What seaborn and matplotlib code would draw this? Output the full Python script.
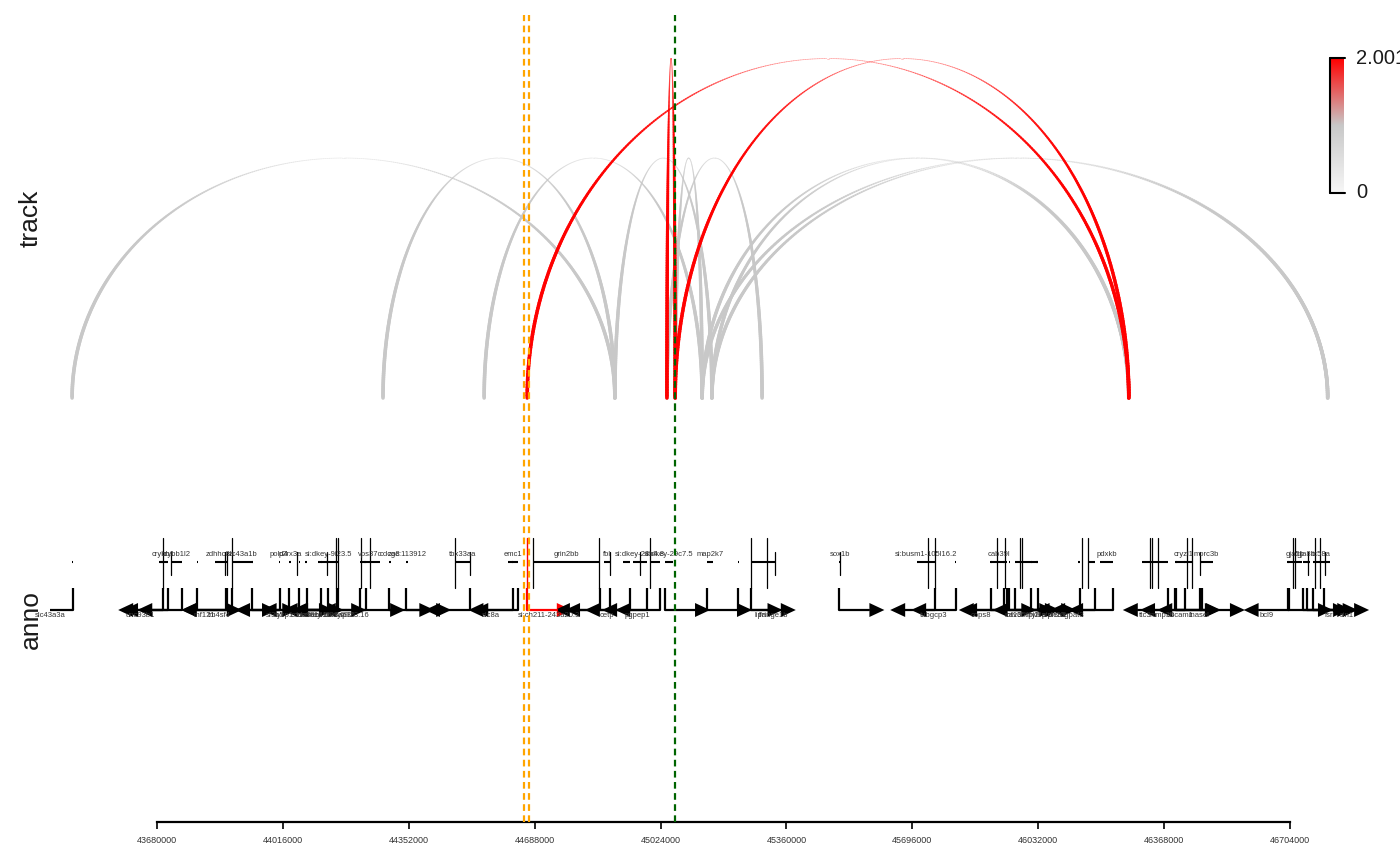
import numpy as np
import seaborn as sns
import matplotlib.pyplot as plt
from matplotlib.collections import LineCollection
from matplotlib.colors import LinearSegmentedColormap, Normalize, to_rgba

##############################################################################
# Data (positions in kb)
##############################################################################
arc_start = [43453, 44283, 44553, 44902, 45063, 45041, 45135, 45161, 45135, 45161,
             44668, 45063, 45041]
arc_end = [44902, 44902, 45135, 45161, 45135, 45295, 46274, 46274, 46805, 46805,
           46274, 46274, 45063]
arc_score = [1.0, 1.0, 1.0, 1.0, 1.0, 1.0, 1.0, 1.0, 1.0, 1.0,
             2.001, 2.001, 2.001]

gene_names = ["slc43a3a", "crybb1", "unc93b1", "crybb1l2", "tm4sf4", "zdhhc8a", "rnf121",
              "slc43a1b", "sf3b5", "pold4", "p2rx3a", "si:dkey-9i23.6", "sycp1",
              "si:dkey-9i23.5", "cfap36", "ccdc88c", "tmem121b", "vps37c", "si:dkey-9i23.16",
              "cdca8", "zgc:113912", "tbx33aa", "emc1", "slc8a", "si:ch211-243a20.3",
              "grin2bb", "fbl", "cetp", "si:dkey-28b4.8", "pgpep1", "si:dkey-29c7.5",
              "map2k7", "lipa", "lfringe1b", "sox1b", "si:busm1-105l16.2", "tubgcp3",
              "cav3", "cab39l", "cops8", "tfpi2", "fryl8a", "ptpn20", "rnf165", "dleu7",
              "agpat3", "pdxkb", "ttc3", "rnasel", "mmp30", "cryzl1", "dscam1", "morc3b",
              "bcl9", "gja5b", "gja8b", "fsrl", "tc58a", "sin1"]
gene_start = [43452, 43685, 43688, 43717, 43786, 43835, 43862,
              43880, 43934, 44005, 44032, 44058, 44076,
              44110, 44118, 44132, 44156, 44222, 44233,
              44300, 44345, 44475, 44617, 44628, 44667,
              44684, 44874, 44924, 44950, 44996, 45036,
              45148, 45230, 45265, 45502, 45708, 45809,
              45907, 45903, 45937, 45955, 45970, 46014, 46028, 46140,
              46165, 46197, 46309, 46400, 46421, 46397, 46467, 46464,
              46698, 46699, 46739, 46751, 46765, 46796]
gene_end = [43454, 43709, 43696, 43747, 43789, 43864, 43866,
            43936, 43937, 44008, 44038, 44062, 44079,
            44163, 44121, 44135, 44159, 44275, 44237,
            44304, 44349, 44515, 44644, 44631, 44676,
            44862, 44889, 44942, 44988, 45023, 45057,
            45164, 45232, 45329, 45504, 45757, 45813,
            45910, 45949, 45940, 45958, 46031, 46016, 46030, 46142,
            46184, 46232, 46378, 46403, 46424, 46445, 46470, 46499,
            46700, 46736, 46757, 46753, 46811, 46798]
gene_strand = ["-", "-", "-", "-", "+", "-", "-",
               "+", "+", "-", "+", "+", "-",
               "-", "+", "-", "-", "+", "-",
               "+", "+", "-", "-", "-", "+",
               "-", "-", "-", "-", "-", "+",
               "+", "+", "+", "+", "-", "-",
               "+", "-", "-", "+", "+", "+", "-", "-",
               "-", "-", "-", "+", "-", "+", "-", "+",
               "-", "+", "+", "+", "+", "+"]
gene_label_side = ["b", "t", "b", "t", "b", "t", "b",
                   "t", "b", "t", "t", "b", "b",
                   "t", "b", "b", "b", "t", "b",
                   "t", "t", "t", "t", "b", "b",
                   "t", "t", "b", "t", "b", "t",
                   "t", "b", "b", "t", "t", "b",
                   "b", "t", "b", "b", "b", "b", "b", "b",
                   "b", "t", "b", "b", "b", "t", "b", "t",
                   "b", "t", "t", "b", "t", "b"]
highlight_gene = "si:ch211-243a20.3"

# vertical marks in the annotation track (long and short)
mark_long = [43696, 43880, 44158, 44163, 44224, 44248, 44475, 44684, 44860, 44996,
             45265, 45308, 45738, 45757, 45922, 45943, 45983, 45988, 46149, 46165,
             46330, 46335, 46352, 46429, 46442, 46712, 46717, 46771, 46784]
mark_short = [43717, 43861, 43867, 44054, 44134, 44515, 44889, 44969, 45329, 45503,
              46464, 46752, 46797]
mark_red = [44668]

vline_orange = [44659.5, 44673.0]
vline_green = [45062.6]

tick_pos = np.arange(43680000, 46704001, 336000)

##############################################################################
# Style
##############################################################################
sns.set_theme(style="white")
plt.rcParams['font.family'] = ['Liberation Sans', 'DejaVu Sans']

cmap = LinearSegmentedColormap.from_list("arc", [(0, "#f7f7f7"), (0.5, "#c8c8c8"), (1, "#ff0000")])
norm = Normalize(0, 2.001)

XLIM = (43394000, 46998000)
ARROW_LEN = 120000
HEAD_LEN = 40000
HEAD_H = 7
Y_BODY, Y_ARROW, Y_STEM = 260, 212, 234


def draw_arc(ax, x0, x1, score):
    # half ellipse, thinning and fading towards the top
    t = np.linspace(0, np.pi, 400)
    c, a, h = (x0 + x1) / 2, (x1 - x0) / 2, np.sqrt(score)
    xs, ys = c - a * np.cos(t), h * np.sin(t)
    pts = np.column_stack([xs, ys]).reshape(-1, 1, 2)
    segs = np.concatenate([pts[:-1], pts[1:]], axis=1)
    s = np.sin((t[:-1] + t[1:]) / 2)
    lw = 2.6 * (1 - 0.8 * s ** 2.5)
    rgba = np.tile(to_rgba(cmap(norm(score))), (len(s), 1))
    rgba[:, 3] = 1 - 0.7 * s ** 6
    ax.add_collection(LineCollection(segs, linewidths=lw, colors=rgba, capstyle="round"))


fig = plt.figure(figsize=(14, 8.65), dpi=100)
ax_top = fig.add_axes([50 / 1400, 455 / 865, 1350 / 1400, 395 / 865])
ax_bot = fig.add_axes([50 / 1400, 43 / 865, 1350 / 1400, 412 / 865])

##############################################################################
# Arc track
##############################################################################
order = np.argsort(arc_score, kind="stable")
for i in order:
    draw_arc(ax_top, arc_start[i] * 1000, arc_end[i] * 1000, arc_score[i])
ax_top.set_xlim(XLIM)
ax_top.set_ylim(-0.05, 1.596)
ax_top.set_xticks([])
ax_top.set_yticks([])
sns.despine(ax=ax_top, left=True, bottom=True)

##############################################################################
# Gene annotation track
##############################################################################
for name, st, en, sd, side in zip(gene_names, gene_start, gene_end, gene_strand, gene_label_side):
    st, en = st * 1000, en * 1000
    col = "red" if name == highlight_gene else "black"
    if en - st < 3000:
        mid = (st + en) / 2
        st, en = mid - 1500, mid + 1500
    ax_bot.plot([st, en], [Y_BODY, Y_BODY], color=col, lw=1.5, solid_capstyle="butt")
    d = 1 if sd == "+" else -1
    tss = st if sd == "+" else en
    tip = tss + d * ARROW_LEN
    ax_bot.plot([tss, tss], [Y_ARROW, Y_STEM], color=col, lw=1.6, solid_capstyle="butt")
    ax_bot.plot([tss, tip - d * HEAD_LEN], [Y_ARROW, Y_ARROW], color=col, lw=1.6)
    ax_bot.fill([tip - d * HEAD_LEN, tip, tip - d * HEAD_LEN],
                [Y_ARROW + HEAD_H, Y_ARROW, Y_ARROW - HEAD_H], color=col, lw=0)
    if side == "t":
        ax_bot.text((st + en) / 2, Y_BODY + 4, name, ha="center", va="bottom",
                    fontsize=5.5, color="#333333")
    else:
        ax_bot.text(tss + d * ARROW_LEN / 2, Y_ARROW - 2, name, ha="center", va="top",
                    fontsize=5.5, color="#333333")

for m in mark_long:
    ax_bot.plot([m * 1000] * 2, [234, 284], color="black", lw=0.9)
for m in mark_short:
    ax_bot.plot([m * 1000] * 2, [247, 270], color="black", lw=0.9)
for m in mark_red:
    ax_bot.plot([m * 1000] * 2, [234, 284], color="red", lw=1.0)

ax_bot.set_xlim(XLIM)
ax_bot.set_ylim(0, 412)
ax_bot.set_yticks([])
ax_bot.set_xticks(tick_pos)
ax_bot.set_xticklabels([str(t) for t in tick_pos], fontsize=6.5, color="#333333")
ax_bot.tick_params(axis="x", length=5, width=1.2, pad=5, bottom=True, color="black")
sns.despine(ax=ax_bot, left=True)
ax_bot.spines["bottom"].set_bounds(tick_pos[0], tick_pos[-1])
ax_bot.spines["bottom"].set_linewidth(1.6)
ax_bot.spines["bottom"].set_color("black")

# highlight lines across both tracks
for ax in (ax_top, ax_bot):
    for v in vline_orange:
        ax.axvline(v * 1000, color="orange", lw=1.6, ls=(0, (3, 2)), zorder=5)
    for v in vline_green:
        ax.axvline(v * 1000, color="darkgreen", lw=1.6, ls=(0, (3, 2)), zorder=5)

fig.text(31 / 1400, 1 - 218 / 865, "track", rotation=90, ha="center", va="center",
         fontsize=19, color="#1a1a1a")
fig.text(31 / 1400, 1 - 620 / 865, "anno", rotation=90, ha="center", va="center",
         fontsize=19, color="#1a1a1a")

##############################################################################
# Colour bar
##############################################################################
cax = fig.add_axes([1330 / 1400, (865 - 193) / 865, 14 / 1400, 135 / 865])
grad = np.linspace(0, 2.001, 256).reshape(-1, 1)
cax.imshow(grad, aspect="auto", cmap=cmap, norm=norm, origin="lower", extent=[0, 1, 0, 2.001])
cax.set_xlim(0, 1)
cax.set_ylim(0, 2.001)
cax.axis("off")
cax.plot([0, 0], [0, 2.001], color="black", lw=1.5, clip_on=False)
cax.plot([0, 1.05], [0, 0], color="black", lw=1.5, clip_on=False)
cax.plot([0, 1.05], [2.001, 2.001], color="black", lw=1.5, clip_on=False)
cax.text(1.85, 2.001, "2.001", va="center", ha="left", fontsize=14.5, color="#1a1a1a")
cax.text(1.85, 0, "0", va="center", ha="left", fontsize=14.5, color="#1a1a1a")

fig.savefig("out.png", dpi=100)
